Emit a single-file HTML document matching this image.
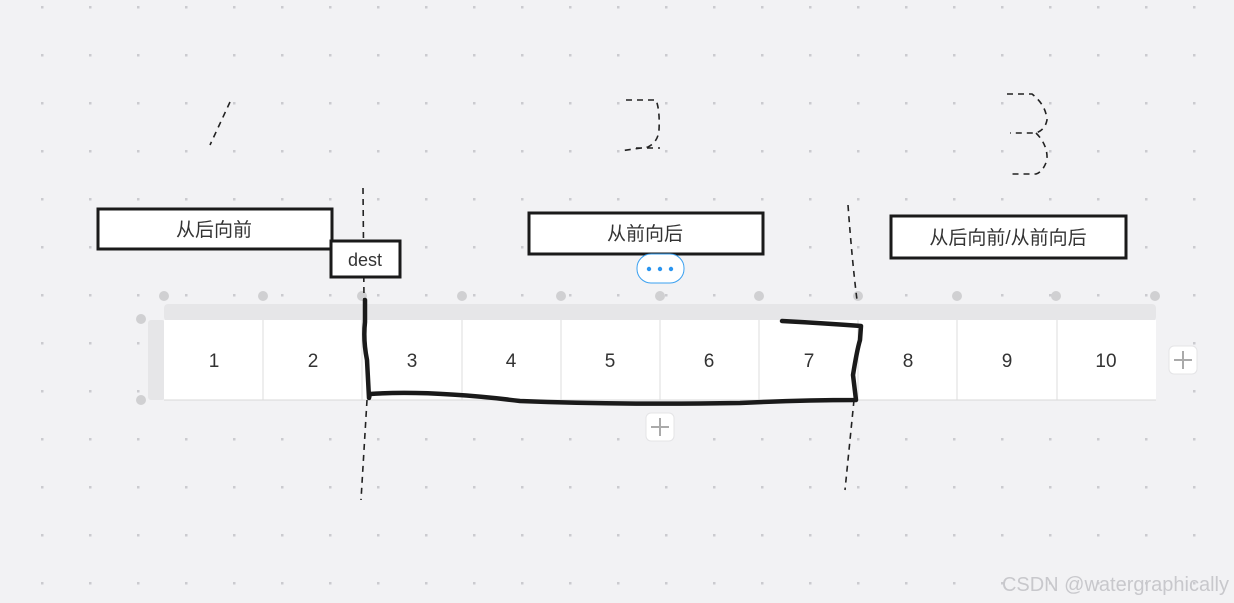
<!DOCTYPE html>
<html><head><meta charset="utf-8"><style>
html,body{margin:0;padding:0;background:#f2f2f4;}
svg{display:block;}
text{font-family:"Liberation Sans","Noto Sans CJK SC",sans-serif;}
</style></head><body>
<svg width="1234" height="603" viewBox="0 0 1234 603" xmlns="http://www.w3.org/2000/svg">
<defs>
<pattern id="dots" x="0" y="0" width="48" height="48" patternUnits="userSpaceOnUse">
<rect x="41" y="6" width="2.5" height="2.5" fill="#cbcbcf"/>
</pattern>
</defs>
<rect width="1234" height="603" fill="#f2f2f4"/>
<rect width="1234" height="603" fill="url(#dots)"/>
<!-- table -->
<rect x="164" y="304" width="992" height="17" rx="4" fill="#e6e6e8"/>
<rect x="148" y="320" width="17" height="80" rx="3" fill="#e6e6e8"/>
<rect x="164" y="320" width="992" height="80" fill="#fff"/>
<line x1="164" y1="400" x2="1156" y2="400" stroke="#d8d8d8"/>
<g stroke="#dddddd">
<line x1="263" y1="320" x2="263" y2="400"/><line x1="362" y1="320" x2="362" y2="400"/>
<line x1="462" y1="320" x2="462" y2="400"/><line x1="561" y1="320" x2="561" y2="400"/>
<line x1="660" y1="320" x2="660" y2="400"/><line x1="759" y1="320" x2="759" y2="400"/>
<line x1="858" y1="320" x2="858" y2="400"/><line x1="957" y1="320" x2="957" y2="400"/>
<line x1="1057" y1="320" x2="1057" y2="400"/>
</g>
<g fill="#d0d0d2">
<circle cx="164" cy="296" r="5"/><circle cx="263" cy="296" r="5"/><circle cx="362" cy="296" r="5"/>
<circle cx="462" cy="296" r="5"/><circle cx="561" cy="296" r="5"/><circle cx="660" cy="296" r="5"/>
<circle cx="759" cy="296" r="5"/><circle cx="858" cy="296" r="5"/><circle cx="957" cy="296" r="5"/>
<circle cx="1056" cy="296" r="5"/><circle cx="1155" cy="296" r="5"/>
<circle cx="141" cy="319" r="5"/><circle cx="141" cy="400" r="5"/>
</g>
<g font-size="19" fill="#333" text-anchor="middle">
<text x="214" y="367">1</text><text x="313" y="367">2</text><text x="412" y="367">3</text>
<text x="511" y="367">4</text><text x="610" y="367">5</text><text x="709" y="367">6</text>
<text x="809" y="367">7</text><text x="908" y="367">8</text><text x="1007" y="367">9</text>
<text x="1106" y="367">10</text>
</g>
<!-- plus buttons -->
<rect x="1169" y="346" width="28" height="28" rx="5" fill="#fff" stroke="#e4e4e6"/>
<path d="M1174 360h18M1183 351v18" stroke="#aaa" stroke-width="2"/>
<rect x="646" y="413" width="28" height="28" rx="5" fill="#fff" stroke="#e4e4e6"/>
<path d="M651 427h18M660 418v18" stroke="#aaa" stroke-width="2"/>
<!-- dashed lines -->
<g fill="none" stroke="#222" stroke-width="1.6" stroke-dasharray="6,5">
<path d="M363 188 L364 300"/>
<path d="M367 400 L361 500"/>
<path d="M848 205 Q852 260 857 300"/>
<path d="M854 400 L845 490"/>
<path d="M230 102 L210 145"/>
<path d="M626 100 H656 Q660 110 659 130 Q658 142 648 147 L620 151 M636 148 H660"/>
<path d="M1007 94 H1032 Q1046 105 1047 120 Q1045 130 1036 133 H1010 M1036 133 Q1048 145 1047 160 Q1043 172 1036 174 H1010"/>
</g>
<!-- bold hand drawn -->
<path d="M365 300 L365 322 Q363 340 367 360 L369 398 L370 394 Q430 390 520 401 Q620 405 740 403 Q800 400 856 400 L853 375 Q857 350 860 340 L861 326 Q820 323 782 321" fill="none" stroke="#1a1a1a" stroke-width="4.5" stroke-linecap="round" stroke-linejoin="round"/>
<!-- boxes -->
<rect x="98" y="209" width="234" height="40" fill="#fff" stroke="#1a1a1a" stroke-width="3"/>
<text x="214" y="236" font-size="19" fill="#333" text-anchor="middle">从后向前</text>
<rect x="331" y="241" width="69" height="36" fill="#fff" stroke="#1a1a1a" stroke-width="3"/>
<text x="365" y="266" font-size="18" fill="#333" text-anchor="middle">dest</text>
<rect x="529" y="213" width="234" height="41" fill="#fff" stroke="#1a1a1a" stroke-width="3"/>
<text x="645" y="240" font-size="19" fill="#333" text-anchor="middle">从前向后</text>
<rect x="891" y="216" width="235" height="42" fill="#fff" stroke="#1a1a1a" stroke-width="3"/>
<text x="1008" y="244" font-size="19" fill="#333" text-anchor="middle">从后向前/从前向后</text>
<!-- ellipsis button -->
<rect x="637" y="254" width="47" height="29" rx="14" fill="#fff" stroke="#3aa0f0"/>
<g fill="#2a95f0"><circle cx="649" cy="269" r="2.2"/><circle cx="660" cy="269" r="2.2"/><circle cx="671" cy="269" r="2.2"/></g>
<!-- watermark -->
<text x="1229" y="591" font-size="20" fill="#c8c8cc" text-anchor="end">CSDN @watergraphically</text>
</svg>
</body></html>
